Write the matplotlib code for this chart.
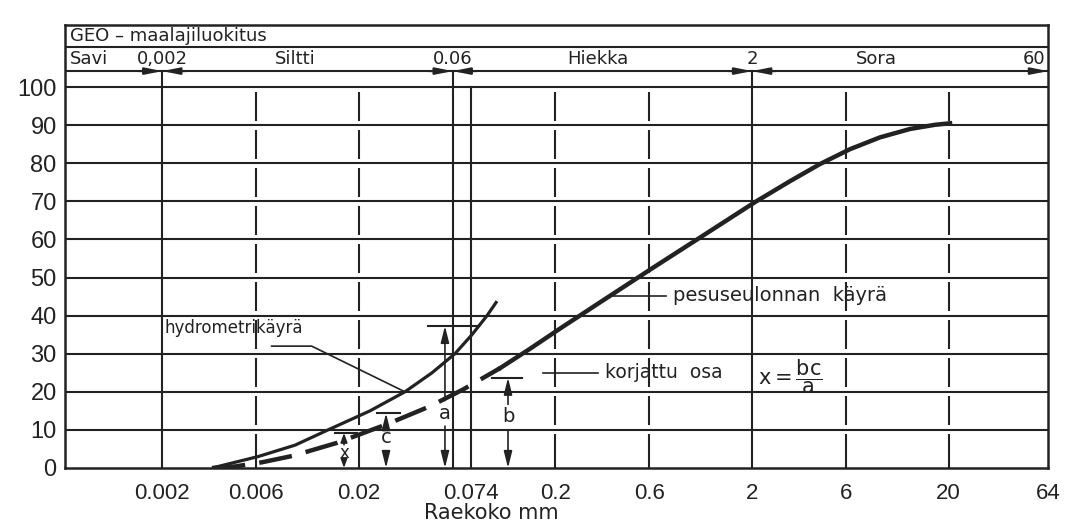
import numpy as np
import matplotlib.pyplot as plt
from matplotlib.ticker import NullLocator

plt.rcParams['mathtext.fontset'] = 'dejavusans'

# Grain size chart (GEO classification)
y_ticks = [0, 10, 20, 30, 40, 50, 60, 70, 80, 90, 100]
x_ticks = [0.002, 0.006, 0.02, 0.074, 0.2, 0.6, 2, 6, 20, 64]
x_tick_labels = ['0.002', '0.006', '0.02', '0.074', '0.2', '0.6', '2', '6', '20', '64']
solid_lines = [0.002, 0.06, 0.074, 2]
dashed_lines = [0.006, 0.02, 0.2, 0.6, 6, 20]
class_limits = [0.002, 0.06, 2]

# hydrometer curve (mm, % passing)
hydro_d = [0.00358, 0.00614, 0.00947, 0.01393, 0.02278, 0.0343, 0.0471, 0.0616, 0.0752, 0.0897, 0.1008]
hydro_p = [0, 3.0, 6.0, 10.0, 15.0, 20.0, 25.0, 30.0, 35.0, 40.0, 43.8]

# corrected part of the sieve curve (dashed)
corr_d = [0.00358, 0.00469, 0.00643, 0.00924, 0.01548, 0.02813, 0.0460, 0.0677, 0.1044]
corr_p = [0, 0.4, 1.5, 3.2, 6.6, 11.6, 16.2, 20.6, 26.2]

# washed sieving curve (solid)
sieve_d = [0.1044, 0.1484, 0.2109, 0.3489, 0.6194, 1.087, 2.069, 3.119, 4.432,
           6.296, 8.945, 12.71, 17.04, 20.32]
sieve_p = [26.2, 31.3, 36.6, 44.0, 52.4, 60.5, 69.8, 75.3, 79.8,
           83.7, 86.8, 89.0, 90.1, 90.5]

# dimension marks x, c, a, b
dim_names = ['x', 'c', 'a', 'b']
dim_d = [0.0168, 0.02748, 0.0548, 0.1147]
dim_top = [9.2, 14.4, 37.3, 23.7]
dim_label = [3.9, 7.9, 14.4, 13.4]
bar_from = [0.01512, 0.02473, 0.04494, 0.0951]
bar_to = [0.01956, 0.03237, 0.0807, 0.1351]

ink = '#222222'

fig = plt.figure(figsize=(10.7, 5.27), dpi=100)
fig.patch.set_facecolor('white')
ax = fig.add_axes([65 / 1070, 59 / 527, 983 / 1070, 443 / 527])
ax.set_xscale('log')
ax.set_xlim(0.00064, 64)
ax.set_ylim(0, 116.3)

# horizontal grid + header rows
for y in y_ticks[1:]:
    ax.axhline(y, color=ink, lw=1.5, zorder=1)
ax.axhline(104.2, color=ink, lw=1.5, zorder=1)
ax.axhline(110.5, color=ink, lw=1.5, zorder=1)

# vertical lines
for d in solid_lines:
    top = 104.2 if d in class_limits else 100
    ax.plot([d, d], [0, top], color=ink, lw=1.5, zorder=1)
for d in dashed_lines:
    lo = np.array(y_ticks[:-1], dtype=float)
    ax.vlines([d] * len(lo), np.where(lo == 0, 0, lo + 1.2), lo + 8.8,
              color=ink, lw=1.5, zorder=1)

# curves
ax.plot(hydro_d, hydro_p, color=ink, lw=2.3, zorder=3, solid_capstyle='butt')
ax.plot(corr_d, corr_p, color=ink, lw=3.2, zorder=3,
        linestyle=(0, (7.5, 3.2)), dash_capstyle='butt')
ax.plot(sieve_d, sieve_p, color=ink, lw=3.2, zorder=3)

# dimension arrows
aprops = dict(arrowstyle='-|>,head_length=1.0,head_width=0.25', color=ink, lw=1.2,
              shrinkA=0, shrinkB=0)
small = dict(aprops, arrowstyle='-|>,head_length=0.55,head_width=0.2')
for name, d, top, ly, b0, b1 in zip(dim_names, dim_d, dim_top, dim_label, bar_from, bar_to):
    tight = top - ly < 6
    props = small if tight else aprops
    ax.annotate('', xy=(d, top), xytext=(d, ly + (2.2 if tight else 3.3)), arrowprops=props)
    ax.annotate('', xy=(d, 0), xytext=(d, ly - (2.4 if tight else 3.4)), arrowprops=props)
    ax.plot([b0, b1], [top, top], color=ink, lw=1.5, zorder=2)
    ax.text(d, ly, name, ha='center', va='center', fontsize=12 if tight else 14, color=ink)

# leaders and labels
ax.plot([0.0072, 0.0115, 0.0343], [32, 32, 20.0], color=ink, lw=1.2)
ax.text(0.00205, 36.7, 'hydrometrikäyrä', fontsize=12, color=ink, va='center')
ax.plot([0.38, 0.73], [45.2, 45.2], color=ink, lw=1.2)
ax.text(0.79, 45.2, 'pesuseulonnan  käyrä', fontsize=14, color=ink, va='center')
ax.plot([0.173, 0.33], [25.0, 25.0], color=ink, lw=1.2)
ax.text(0.357, 25.0, 'korjattu  osa', fontsize=13.5, color=ink, va='center')
ax.text(2.15, 24.0, r'$\mathrm{x=\dfrac{bc}{a}}$', fontsize=15, color=ink, va='center')

# header
ax.text(0.00068, 113.4, 'GEO – maalajiluokitus', fontsize=13, color=ink, va='center')
ax.text(0.00068, 107.4, 'Savi', fontsize=13, color=ink, va='center')
ax.text(0.002, 107.4, '0,002', fontsize=13, color=ink, va='center', ha='center')
ax.text(0.0095, 107.4, 'Siltti', fontsize=13, color=ink, va='center', ha='center')
ax.text(0.06, 107.4, '0.06', fontsize=13, color=ink, va='center', ha='center')
ax.text(0.33, 107.4, 'Hiekka', fontsize=13, color=ink, va='center', ha='center')
ax.text(2, 107.4, '2', fontsize=13, color=ink, va='center', ha='center')
ax.text(8.6, 107.4, 'Sora', fontsize=13, color=ink, va='center', ha='center')
ax.text(62, 107.4, '60', fontsize=13, color=ink, va='center', ha='right')

hprops = dict(arrowstyle='-|>,head_length=1.0,head_width=0.2', color=ink, lw=1.5,
              shrinkA=0, shrinkB=0)
for d in class_limits:
    ax.annotate('', xy=(d, 104.2), xytext=(d / 1.32, 104.2), arrowprops=hprops)
    ax.annotate('', xy=(d, 104.2), xytext=(d * 1.32, 104.2), arrowprops=hprops)
ax.annotate('', xy=(64, 104.2), xytext=(52, 104.2), arrowprops=hprops)

# axes styling
ax.set_yticks(y_ticks)
ax.set_yticklabels([str(v) for v in y_ticks])
ax.set_xticks(x_ticks)
ax.set_xticklabels(x_tick_labels)
ax.xaxis.set_minor_locator(NullLocator())
ax.tick_params(length=0, labelsize=16, colors=ink)
ax.tick_params(axis='y', pad=6, labelsize=17)
ax.tick_params(axis='x', pad=11)
for lab in ax.get_xticklabels() + ax.get_yticklabels():
    lab.set_family(['Liberation Sans', 'DejaVu Sans'])
for sp in ax.spines.values():
    sp.set_linewidth(1.8)
    sp.set_color(ink)

ax.set_xlabel('Raekoko mm', fontsize=15, color=ink)
ax.xaxis.set_label_coords(0.434, -0.102)
ax.xaxis.label.set_va('center')

fig.savefig('out.png', dpi=100, facecolor='white')
